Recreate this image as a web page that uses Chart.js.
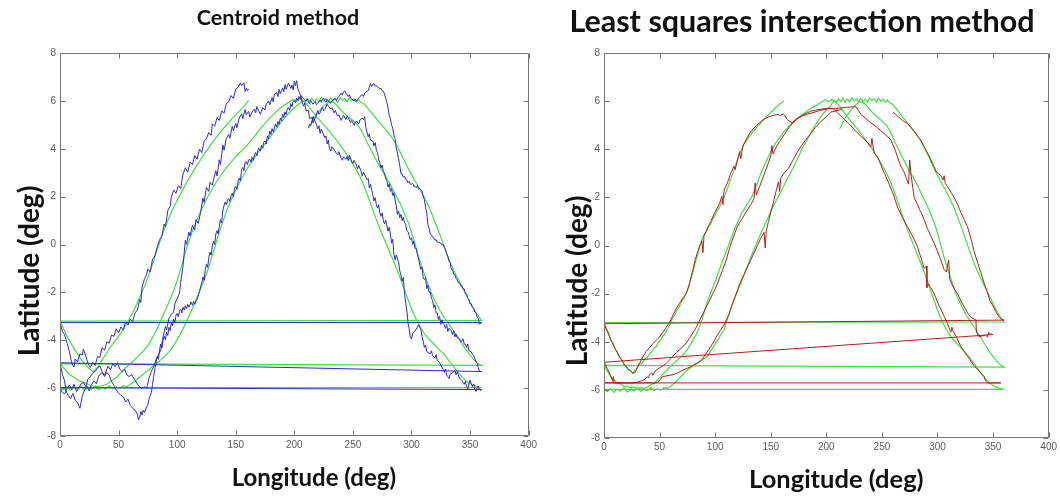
<!DOCTYPE html>
<html>
<head>
<meta charset="utf-8">
<script src="https://cdn.jsdelivr.net/npm/chart.js@4"></script>
<style>
  html, body { margin: 0; padding: 0; background: #fff; }
  #wrap { position: relative; width: 1060px; height: 497px; overflow: hidden; }
  #left { position: absolute; left: 0; top: 0; }
  #right { position: absolute; left: 540px; top: 0; }
</style>
</head>
<body>
<div id="wrap">
  <canvas id="left" width="540" height="497"></canvas>
  <canvas id="right" width="520" height="497"></canvas>
</div>
<script>
// axis ranges / ticks
const lonRange = [0, 400], lonStep = 50;
const latRange = [-8, 8], latStep = 2;

// true track (green), 4 passes over longitude, [lon, lat]
const green1 = [[212,4.85],[215,5.12],[218,5.38],[221,5.55],[224,5.74],[227,5.86],[230,5.98],[233,5.95],[236,5.83],[239,5.66],[242,5.5],[245,5.38],[248,5.26],[251,5.14],[254,5.0],[257,4.78],[260,4.48],[263,4.18],[266,3.9],[270,3.52],[274,3.16],[278,2.84],[282,2.5],[286,2.1],[290,1.74],[294,1.3],[298,0.82],[302,0.2],[306,-0.5],[310,-1.1],[314,-1.65],[318,-2.15],[322,-2.55],[326,-2.9],[330,-3.2],[334,-3.46],[338,-3.76],[342,-4.06],[346,-4.36],[350,-4.62],[354,-4.84],[357,-4.98],[360,-5.05]];
const green2 = [[0,-4.98],[4,-5.2],[8,-5.42],[12,-5.56],[16,-5.68],[20,-5.76],[24,-5.84],[28,-5.9],[32,-5.93],[36,-5.9],[40,-5.84],[44,-5.7],[48,-5.56],[52,-5.36],[56,-5.16],[60,-4.98],[64,-4.8],[68,-4.6],[72,-4.4],[76,-4.15],[80,-3.8],[84,-3.4],[88,-2.96],[92,-2.52],[96,-2.06],[100,-1.5],[104,-0.85],[108,-0.15],[112,0.42],[116,0.92],[120,1.38],[124,1.8],[128,2.16],[132,2.5],[136,2.8],[140,3.08],[144,3.34],[148,3.56],[152,3.78],[156,3.96],[160,4.16],[164,4.4],[168,4.64],[172,4.9],[176,5.12],[180,5.32],[184,5.52],[188,5.7],[192,5.84],[196,5.96],[199,6.06],[202,5.98],[205,6.08],[208,5.96],[211,5.84],[214,5.66],[217,5.46],[220,5.28],[224,5.06],[228,4.84],[232,4.6],[236,4.36],[240,4.1],[244,3.82],[248,3.52],[252,3.2],[256,2.84],[260,2.38],[264,1.86],[268,1.3],[272,0.78],[276,0.3],[280,-0.15],[284,-0.62],[288,-1.1],[292,-1.62],[296,-2.16],[300,-2.68],[304,-3.12],[308,-3.5],[312,-3.8],[316,-4.0],[320,-4.2],[324,-4.4],[328,-4.6],[332,-4.85],[336,-5.1],[340,-5.35],[344,-5.58],[348,-5.76],[352,-5.86],[356,-5.95],[360,-5.98]];
const green3 = [[0,-5.98],[3,-6.08],[6,-5.94],[9,-6.1],[12,-5.97],[15,-6.06],[18,-5.92],[21,-6.09],[24,-5.98],[27,-6.05],[30,-5.93],[33,-6.07],[36,-5.96],[39,-6.04],[42,-5.9],[45,-6.03],[48,-5.95],[51,-6.02],[54,-5.9],[57,-5.94],[60,-5.84],[63,-5.76],[66,-5.62],[70,-5.46],[74,-5.3],[78,-5.14],[82,-4.98],[86,-4.82],[90,-4.64],[94,-4.42],[98,-4.14],[102,-3.8],[106,-3.42],[110,-3.0],[114,-2.56],[118,-2.1],[122,-1.6],[126,-1.1],[130,-0.45],[134,0.2],[138,0.82],[142,1.38],[146,1.86],[150,2.28],[154,2.66],[158,3.02],[162,3.34],[166,3.62],[170,3.9],[174,4.14],[178,4.4],[182,4.66],[186,4.92],[190,5.18],[194,5.42],[198,5.62],[202,5.8],[205,5.9],[207,6.02],[209,5.94],[211,6.1],[213,5.98],[215,6.12],[217,5.96],[219,6.08],[221,5.97],[223,6.14],[225,6.0],[227,6.1],[229,5.95],[231,6.12],[233,6.0],[235,6.08],[237,5.94],[239,6.13],[241,6.02],[243,6.1],[245,5.96],[247,6.12],[249,6.0],[251,6.08],[253,5.95],[255,6.06],[257,5.92],[259,5.9],[262,5.74],[266,5.5],[270,5.26],[274,5.02],[278,4.8],[282,4.56],[286,4.26],[290,3.9],[294,3.5],[298,3.1],[302,2.74],[306,2.4],[310,2.06],[314,1.66],[318,1.2],[322,0.7],[326,0.16],[330,-0.38],[334,-0.86],[338,-1.28],[342,-1.66],[346,-2.04],[350,-2.42],[354,-2.78],[357,-3.0],[360,-3.17]];
const green4 = [[0,-3.2],[3,-3.52],[6,-3.84],[9,-4.1],[12,-4.34],[15,-4.58],[18,-4.8],[21,-4.98],[24,-5.14],[27,-5.26],[29,-5.32],[31,-5.2],[34,-4.98],[37,-4.74],[40,-4.5],[44,-4.22],[48,-3.96],[52,-3.7],[56,-3.38],[60,-3.04],[64,-2.64],[68,-2.22],[72,-1.76],[76,-1.24],[80,-0.66],[84,-0.06],[88,0.5],[92,1.0],[96,1.45],[100,1.85],[104,2.22],[108,2.58],[112,2.92],[116,3.24],[120,3.54],[124,3.84],[128,4.12],[132,4.38],[136,4.64],[140,4.88],[144,5.1],[148,5.32],[152,5.52],[156,5.72],[159,5.88],[161,6.02]];

// true track (rising branches sit a little later there)
const greenR2 = [[0,-4.98],[3,-5.22],[6,-5.46],[9,-5.58],[12,-5.72],[15,-5.76],[18,-5.86],[21,-5.84],[24,-5.92],[27,-5.88],[30,-5.96],[33,-5.9],[36,-5.94],[39,-5.88],[42,-5.8],[45,-5.74],[48,-5.6],[51,-5.46],[54,-5.3],[57,-5.16],[60,-5.0],[63,-4.9],[66,-4.76],[69,-4.64],[72,-4.5],[75,-4.32],[78,-4.1],[81,-3.86],[84,-3.6],[86,-3.36],[88,-3.1],[90,-2.8],[93,-2.32],[95,-2.1],[98,-1.72],[100,-1.5],[103,-1.1],[105,-0.86],[108,-0.48],[110,-0.24],[112,0.0],[114,0.26],[116,0.5],[118,0.74],[120,0.96],[122,1.14],[124,1.36],[126,1.5],[128,1.66],[130,1.8],[133,2.02],[135,2.28],[138,2.62],[140,2.86],[142,3.1],[144,3.3],[146,3.5],[148,3.7],[151,4.0],[153,4.16],[156,4.36],[158,4.5],[160,4.6],[163,4.78],[165,4.88],[168,5.04],[170,5.12],[173,5.26],[175,5.32],[178,5.44],[180,5.5],[183,5.6],[185,5.66],[188,5.76],[190,5.8],[193,5.88],[196,5.96],[199,6.06],[202,5.98],[205,6.08],[208,5.96],[211,5.84],[214,5.66],[217,5.46],[220,5.28],[224,5.06],[228,4.84],[232,4.6],[236,4.36],[240,4.1],[244,3.82],[248,3.52],[252,3.2],[256,2.84],[260,2.38],[264,1.86],[268,1.3],[272,0.78],[276,0.3],[280,-0.15],[284,-0.62],[288,-1.1],[292,-1.62],[296,-2.16],[300,-2.68],[304,-3.12],[308,-3.5],[312,-3.8],[316,-4.0],[320,-4.2],[324,-4.4],[328,-4.6],[332,-4.85],[336,-5.1],[340,-5.35],[344,-5.58],[348,-5.76],[352,-5.86],[356,-5.95],[360,-5.98]];
const greenR3 = [[0,-5.98],[3,-6.08],[6,-5.94],[9,-6.1],[12,-5.97],[15,-6.06],[18,-5.92],[21,-6.09],[24,-5.98],[27,-6.05],[30,-5.93],[33,-6.07],[36,-5.96],[39,-6.04],[42,-5.9],[45,-6.03],[48,-5.95],[51,-6.02],[54,-5.9],[57,-5.94],[60,-5.84],[63,-5.74],[66,-5.6],[68,-5.5],[71,-5.36],[74,-5.22],[77,-5.1],[80,-5.02],[83,-4.92],[86,-4.84],[89,-4.74],[93,-4.6],[96,-4.4],[98,-4.22],[100,-4.08],[102,-3.94],[104,-3.8],[106,-3.66],[108,-3.5],[110,-3.2],[113,-2.8],[115,-2.5],[117,-2.25],[120,-1.92],[122,-1.7],[125,-1.34],[127,-1.1],[130,-0.74],[132,-0.5],[135,-0.16],[137,0.05],[140,0.38],[142,0.6],[145,0.9],[147,1.1],[150,1.4],[152,1.6],[155,1.88],[157,2.05],[160,2.32],[162,2.5],[165,2.78],[167,2.95],[170,3.22],[172,3.4],[175,3.7],[178,4.0],[181,4.26],[184,4.5],[187,4.76],[190,5.0],[193,5.22],[195,5.35],[198,5.52],[200,5.62],[202,5.72],[204,5.8],[205,5.9],[207,6.02],[209,5.94],[211,6.1],[213,5.98],[215,6.12],[217,5.96],[219,6.08],[221,5.97],[223,6.14],[225,6.0],[227,6.1],[229,5.95],[231,6.12],[233,6.0],[235,6.08],[237,5.94],[239,6.13],[241,6.02],[243,6.1],[245,5.96],[247,6.12],[249,6.0],[251,6.08],[253,5.95],[255,6.06],[257,5.92],[259,5.9],[262,5.74],[266,5.5],[270,5.26],[274,5.02],[278,4.8],[282,4.56],[286,4.26],[290,3.9],[294,3.5],[298,3.1],[302,2.74],[306,2.4],[310,2.06],[314,1.66],[318,1.2],[322,0.7],[326,0.16],[330,-0.38],[334,-0.86],[338,-1.28],[342,-1.66],[346,-2.04],[350,-2.42],[354,-2.78],[357,-3.0],[360,-3.17]];
const greenR4 = [[0,-3.2],[2,-3.44],[4,-3.6],[6,-3.92],[8,-4.04],[10,-4.3],[12,-4.42],[14,-4.66],[16,-4.74],[18,-4.96],[20,-5.02],[22,-5.18],[24,-5.2],[26,-5.32],[28,-5.18],[30,-5.08],[32,-4.92],[34,-4.9],[37,-4.7],[39,-4.66],[41,-4.48],[43,-4.42],[45,-4.26],[47,-4.2],[49,-4.02],[51,-3.94],[53,-3.76],[55,-3.68],[57,-3.46],[59,-3.32],[62,-2.98],[64,-2.86],[66,-2.64],[68,-2.52],[70,-2.3],[72,-2.2],[74,-1.98],[76,-1.74],[78,-1.38],[80,-1.12],[82,-0.72],[84,-0.44],[86,-0.04],[88,0.24],[90,0.44],[92,0.56],[94,0.78],[96,0.9],[98,1.12],[100,1.26],[102,1.46],[104,1.6],[106,1.82],[108,1.98],[110,2.26],[112,2.48],[114,2.78],[116,3.0],[118,3.3],[120,3.54],[122,3.84],[124,4.0],[126,4.22],[128,4.32],[130,4.5],[132,4.6],[134,4.74],[136,4.82],[138,4.96],[140,5.04],[142,5.16],[144,5.22],[146,5.36],[148,5.42],[150,5.54],[152,5.6],[154,5.72],[156,5.78],[158,5.88],[160,5.94],[162,6.02]];

// centroid estimate (blue)
const blue1 = [[212,4.9],[213,5.02],[214,4.96],[216,5.35],[217,5.2],[218,5.28],[220,5.6],[221,5.44],[222,5.5],[224,5.74],[225,5.58],[226,5.64],[228,5.86],[229,5.78],[231,5.66],[232,5.72],[234,5.5],[235,5.6],[237,5.36],[238,5.42],[240,5.18],[241,5.3],[242,5.4],[244,5.22],[245,5.36],[246,5.3],[248,5.1],[249,5.18],[251,4.98],[252,5.1],[253,5.16],[255,5.04],[256,5.2],[258,5.28],[259,5.22],[260,5.34],[261,4.9],[262,4.7],[263,4.5],[264,4.62],[265,4.36],[267,4.32],[268,4.12],[269,4.26],[270,3.94],[271,3.84],[272,3.56],[273,3.42],[274,3.2],[275,3.32],[276,3.04],[277,2.98],[278,2.74],[279,2.66],[280,2.4],[281,2.54],[282,2.22],[283,2.34],[284,2.04],[285,2.16],[286,1.88],[287,1.62],[288,1.26],[289,1.4],[290,1.12],[291,1.26],[292,1.0],[293,1.14],[294,0.92],[295,0.82],[296,0.58],[297,0.54],[298,0.38],[299,0.2],[300,0.28],[301,0.0],[302,0.14],[303,-0.16],[304,-0.16],[305,-0.42],[306,-0.56],[307,-0.86],[308,-1.04],[309,-0.94],[310,-1.4],[311,-1.46],[312,-1.38],[313,-1.84],[314,-1.7],[315,-2.0],[316,-1.98],[317,-2.24],[318,-2.34],[319,-2.64],[320,-2.52],[321,-2.86],[322,-2.86],[323,-3.14],[324,-3.0],[325,-3.34],[326,-3.14],[327,-3.3],[328,-3.36],[329,-3.5],[330,-3.34],[331,-3.64],[332,-3.5],[333,-3.54],[334,-3.62],[335,-3.76],[336,-3.6],[337,-3.86],[338,-3.74],[339,-3.9],[340,-3.9],[341,-3.94],[342,-4.08],[343,-4.02],[344,-3.94],[345,-4.16],[346,-4.16],[347,-4.3],[348,-4.16],[349,-4.44],[350,-4.46],[351,-4.48],[352,-4.6],[353,-4.62],[354,-4.76],[355,-4.9],[356,-4.96],[357,-5.14],[358,-5.3],[360,-5.31]];
const blue2 = [[0,-4.94],[2,-5.42],[4,-5.7],[5,-6.12],[7,-6.3],[9,-6.44],[11,-6.22],[13,-6.52],[15,-6.6],[17,-6.84],[19,-6.34],[21,-6.06],[23,-5.92],[25,-6.12],[27,-5.84],[29,-5.7],[31,-5.82],[33,-5.5],[36,-5.34],[38,-5.46],[41,-5.08],[43,-5.24],[45,-4.98],[47,-5.1],[49,-4.94],[51,-5.2],[53,-5.32],[55,-5.2],[57,-5.44],[59,-5.52],[61,-5.44],[64,-5.66],[66,-5.82],[68,-5.94],[70,-6.02],[72,-5.94],[74,-6.0],[76,-5.58],[78,-5.3],[80,-5.1],[82,-4.8],[84,-4.62],[86,-4.4],[88,-3.86],[90,-3.42],[91,-3.56],[93,-3.08],[95,-2.92],[97,-2.82],[98,-2.48],[100,-2.26],[102,-2.02],[103,-1.6],[105,-0.9],[107,0.18],[108,0.0],[110,0.52],[111,0.36],[113,0.8],[115,0.6],[116,1.04],[118,0.88],[120,1.34],[122,1.94],[123,1.76],[125,2.38],[127,2.22],[128,2.6],[130,2.48],[132,2.9],[133,3.08],[134,2.86],[136,3.54],[137,3.34],[139,4.16],[140,3.94],[142,4.44],[144,4.6],[145,4.44],[147,4.94],[148,4.76],[150,5.06],[151,4.88],[153,5.28],[155,5.46],[156,5.26],[158,5.64],[159,5.42],[161,5.56],[162,5.32],[164,5.54],[166,5.66],[167,5.5],[168,5.76],[170,5.54],[171,5.44],[173,5.72],[175,5.62],[176,5.86],[178,6.0],[179,5.84],[181,6.14],[182,5.96],[183,6.28],[185,6.34],[186,6.18],[187,6.48],[188,6.3],[190,6.54],[191,6.38],[192,6.68],[193,6.48],[195,6.74],[197,6.52],[198,6.66],[199,6.46],[200,6.82],[201,6.64],[202,6.84],[203,6.5],[205,6.26],[206,6.12],[207,5.9],[208,5.78],[209,5.92],[210,5.58],[212,5.6],[213,5.26],[215,5.32],[216,5.08],[217,5.22],[219,5.0],[220,4.82],[221,4.96],[222,4.64],[223,4.82],[225,4.58],[226,4.46],[227,4.54],[228,4.2],[229,4.36],[230,4.0],[231,3.9],[232,4.08],[234,3.96],[236,3.8],[237,3.74],[238,3.88],[240,3.6],[241,3.52],[242,3.66],[244,3.56],[245,3.68],[246,3.5],[247,3.72],[249,3.46],[250,3.38],[251,3.52],[253,3.32],[254,3.16],[255,3.3],[257,3.06],[258,2.86],[259,3.02],[261,2.82],[262,2.7],[263,2.76],[264,2.36],[265,2.52],[267,2.06],[268,1.82],[269,1.96],[270,1.66],[271,1.52],[272,1.66],[273,1.32],[274,1.18],[275,1.32],[276,0.98],[277,0.86],[278,1.02],[280,0.56],[281,0.72],[282,0.44],[283,0.06],[284,0.22],[285,-0.4],[286,-0.64],[287,-0.44],[289,-0.74],[290,-1.1],[291,-1.28],[292,-1.54],[293,-1.38],[294,-2.04],[295,-2.4],[296,-2.74],[297,-3.28],[298,-3.52],[299,-3.88],[300,-3.94],[301,-3.72],[303,-3.62],[305,-3.46],[306,-3.34],[307,-3.46],[308,-3.54],[309,-3.84],[310,-4.04],[311,-4.3],[312,-4.2],[313,-4.46],[314,-4.52],[316,-4.56],[317,-4.44],[318,-4.64],[320,-4.74],[321,-4.6],[322,-4.84],[324,-4.94],[325,-5.04],[327,-5.22],[328,-5.34],[329,-5.2],[330,-5.46],[331,-5.52],[332,-5.6],[333,-5.42],[335,-5.36],[337,-5.26],[338,-5.44],[339,-5.34],[341,-5.58],[343,-5.68],[344,-5.76],[345,-5.84],[346,-5.72],[347,-5.94],[348,-6.04],[349,-5.82],[350,-5.66],[351,-5.82],[352,-5.94],[353,-5.82],[354,-6.04],[355,-6.14],[356,-5.98],[357,-5.92],[358,-6.06],[359,-6.1],[360,-6.06]];
const blue3 = [[0,-5.98],[2,-6.18],[4,-6.24],[6,-6.02],[8,-5.88],[10,-6.06],[12,-5.84],[14,-6.14],[16,-6.0],[18,-5.82],[20,-5.76],[22,-5.94],[24,-5.6],[26,-5.52],[28,-5.36],[30,-5.3],[32,-5.14],[34,-5.08],[36,-5.32],[38,-5.52],[40,-5.34],[42,-5.46],[44,-5.72],[46,-5.88],[48,-6.08],[50,-6.2],[52,-6.3],[54,-6.36],[56,-6.58],[58,-6.46],[60,-6.72],[62,-6.84],[64,-6.92],[66,-7.08],[67,-7.32],[68,-7.22],[69,-6.98],[70,-7.12],[71,-6.92],[72,-7.02],[74,-6.78],[75,-6.7],[76,-6.46],[77,-6.32],[78,-6.18],[79,-5.84],[80,-5.5],[81,-5.18],[82,-4.96],[83,-4.66],[84,-4.8],[85,-4.38],[86,-4.16],[87,-4.32],[88,-3.98],[89,-3.84],[90,-3.98],[91,-3.66],[92,-3.8],[93,-3.46],[94,-3.6],[95,-3.26],[96,-3.4],[97,-3.12],[98,-3.26],[99,-2.96],[100,-2.88],[101,-3.02],[102,-2.76],[103,-2.7],[104,-2.86],[105,-2.62],[106,-2.74],[107,-2.56],[108,-2.68],[109,-2.5],[110,-2.62],[112,-2.4],[113,-2.54],[114,-2.38],[115,-2.5],[116,-2.36],[117,-2.3],[118,-2.16],[119,-1.96],[120,-1.78],[121,-1.6],[122,-1.36],[123,-1.5],[124,-1.04],[125,-0.82],[126,-0.96],[127,-0.56],[128,-0.32],[129,-0.44],[130,-0.06],[131,0.14],[132,0.0],[133,0.44],[134,0.58],[135,0.44],[136,0.78],[137,1.04],[138,0.9],[139,1.44],[140,1.62],[141,1.78],[142,1.66],[143,1.86],[144,1.92],[145,1.8],[146,2.04],[147,2.14],[148,2.0],[149,2.34],[150,2.42],[151,2.3],[152,2.64],[153,2.78],[154,2.66],[155,3.14],[156,3.22],[157,3.08],[158,3.44],[159,3.46],[160,3.34],[161,3.54],[162,3.56],[163,3.44],[164,3.64],[165,3.52],[166,3.74],[167,3.84],[168,3.7],[169,3.98],[170,4.02],[171,3.9],[172,4.14],[173,4.02],[174,4.28],[175,4.32],[176,4.2],[177,4.54],[178,4.4],[179,4.74],[180,4.6],[181,4.84],[182,4.7],[184,5.04],[185,4.9],[186,5.14],[187,5.02],[188,5.28],[189,5.16],[190,5.44],[191,5.3],[192,5.54],[193,5.42],[194,5.66],[195,5.72],[196,5.6],[197,5.88],[198,5.76],[199,5.98],[200,6.02],[201,5.92],[202,6.12],[203,6.02],[204,6.18],[205,6.08],[206,6.22],[207,6.12],[208,6.1],[209,6.02],[210,6.0],[211,6.08],[212,5.94],[213,5.88],[214,6.02],[215,5.92],[216,5.86],[217,5.94],[218,5.96],[219,5.84],[220,5.9],[221,5.98],[222,6.04],[223,5.94],[224,6.06],[225,6.12],[226,6.0],[227,5.94],[228,6.06],[229,6.0],[230,5.92],[231,5.9],[232,6.0],[233,6.02],[234,6.08],[235,6.1],[236,6.02],[237,6.12],[238,6.18],[239,6.24],[240,6.32],[241,6.24],[242,6.38],[243,6.42],[244,6.32],[245,6.26],[246,6.18],[247,6.26],[248,6.12],[249,6.08],[250,6.04],[251,6.0],[252,6.08],[253,5.98],[254,6.06],[255,6.12],[256,6.18],[257,6.22],[258,6.26],[259,6.18],[260,6.32],[261,6.36],[262,6.4],[263,6.42],[264,6.56],[265,6.72],[266,6.6],[267,6.7],[268,6.72],[269,6.62],[270,6.64],[271,6.58],[272,6.56],[273,6.5],[274,6.52],[275,6.42],[276,6.4],[277,6.28],[278,6.1],[279,5.94],[280,5.7],[281,5.38],[282,5.26],[283,4.98],[284,4.86],[285,4.58],[286,4.42],[287,4.04],[288,3.82],[289,3.58],[290,3.3],[291,2.96],[292,2.94],[293,2.82],[294,2.84],[295,2.72],[296,2.7],[297,2.58],[298,2.64],[299,2.52],[300,2.52],[301,2.56],[302,2.44],[303,2.44],[304,2.38],[305,2.46],[306,2.32],[307,2.34],[308,2.28],[309,2.22],[310,2.02],[311,1.88],[312,1.56],[313,1.34],[314,0.84],[315,0.68],[316,0.44],[317,0.4],[318,0.3],[319,0.28],[320,0.18],[321,0.2],[322,0.1],[323,0.1],[324,0.08],[325,0.06],[326,-0.02],[327,0.0],[328,-0.12],[329,-0.2],[330,-0.38],[331,-0.5],[332,-0.7],[333,-0.76],[334,-1.04],[335,-1.04],[336,-1.24],[337,-1.26],[338,-1.42],[339,-1.46],[340,-1.6],[341,-1.58],[342,-1.74],[343,-1.72],[344,-1.86],[345,-1.86],[346,-2.04],[347,-2.06],[348,-2.24],[349,-2.28],[350,-2.48],[351,-2.48],[352,-2.64],[353,-2.66],[354,-2.82],[355,-2.84],[356,-3.04],[357,-3.08],[358,-3.32],[360,-3.26]];
const blue4 = [[0,-3.26],[2,-3.62],[4,-3.78],[6,-4.12],[8,-4.46],[10,-4.95],[12,-5.12],[13,-4.78],[15,-4.9],[17,-4.56],[19,-4.62],[20,-4.38],[22,-4.66],[24,-4.98],[26,-5.14],[28,-4.92],[30,-5.06],[32,-4.68],[34,-4.72],[36,-4.3],[38,-4.42],[40,-4.06],[42,-4.12],[44,-3.78],[46,-3.84],[48,-3.52],[50,-3.7],[52,-3.44],[54,-3.58],[56,-3.24],[58,-3.36],[60,-3.12],[62,-3.22],[64,-2.86],[66,-2.74],[68,-2.3],[69,-2.42],[70,-1.78],[72,-1.46],[74,-1.24],[75,-1.02],[77,-1.14],[79,-0.62],[81,-0.48],[83,-0.1],[85,0.2],[87,0.36],[89,0.86],[90,0.74],[92,1.42],[94,1.6],[95,1.96],[97,2.28],[99,2.14],[101,2.46],[103,2.34],[105,2.94],[107,3.2],[109,3.02],[111,3.44],[113,3.34],[115,3.72],[117,3.56],[119,3.98],[121,3.84],[123,4.32],[125,4.42],[127,4.68],[129,4.56],[130,5.04],[132,4.94],[134,5.3],[136,5.18],[138,5.58],[140,5.48],[142,5.9],[144,5.96],[146,6.22],[148,6.1],[150,6.48],[152,6.58],[154,6.74],[155,6.64],[157,6.76],[158,6.4],[159,6.52],[160,6.42],[161,6.5]];

// least squares intersection estimate (red)
const red1 = [[260,5.55],[263,5.42],[266,5.3],[270,5.15],[273,5.08],[276,4.92],[279,4.75],[282,4.55],[285,4.38],[288,4.12],[291,3.85],[294,3.58],[297,3.27],[299,3.05],[301,2.98],[303,2.9],[305,2.72],[306,2.9],[307,2.58],[309,2.45],[312,2.22],[315,2.0],[318,1.7],[321,1.38],[324,1.08],[327,0.78],[330,0.3],[333,-0.25],[336,-0.7],[339,-1.12],[342,-1.57],[345,-1.95],[347,-2.28],[350,-2.52],[353,-2.8],[356,-3.0],[358,-3.08],[360,-3.1]];
const red2 = [[0,-3.25],[3,-3.58],[6,-3.9],[9,-4.2],[12,-4.46],[15,-4.7],[18,-4.92],[21,-5.1],[24,-5.22],[26,-5.3],[28,-5.28],[30,-5.08],[32,-4.9],[35,-4.62],[38,-4.4],[41,-4.25],[44,-4.08],[47,-3.94],[50,-3.8],[53,-3.6],[56,-3.4],[59,-3.2],[62,-2.9],[65,-2.62],[68,-2.4],[71,-2.18],[74,-2.0],[77,-1.58],[80,-1.0],[82,-0.6],[84,-0.3],[86,-0.05],[88,0.2],[89,-0.3],[90,0.42],[93,0.7],[96,1.0],[100,1.4],[104,1.75],[106,2.05],[107,1.7],[108,2.3],[111,2.6],[114,3.0],[117,3.3],[118,3.15],[120,3.55],[122,3.9],[123,3.6],[125,4.15],[128,4.42],[131,4.66],[134,4.84],[137,4.98],[140,5.1],[143,5.22],[146,5.3],[149,5.36],[152,5.4],[155,5.44],[157,5.45],[159,5.38],[160,5.46],[162,5.45],[165,5.22],[169,5.1],[173,5.25],[178,5.38],[183,5.46],[188,5.52],[193,5.6],[198,5.65],[203,5.7],[208,5.68],[213,5.72],[218,5.74],[223,5.76],[227,5.76],[229,5.6],[231,5.45],[235,5.3],[240,5.1],[246,4.9],[252,4.65],[258,4.4],[262,3.95],[265,3.55],[267,3.3],[270,3.05],[272,2.78],[274,2.55],[275,3.55],[276,3.0],[279,2.0],[282,1.7],[284,1.48],[286,1.3],[288,1.06],[291,0.7],[294,0.4],[297,0.1],[300,-0.25],[303,-0.6],[306,-1.0],[308,-1.1],[310,-0.6],[311,-1.4],[313,-1.62],[315,-1.8],[318,-2.0],[321,-2.3],[324,-2.55],[327,-2.8],[330,-2.98],[333,-3.06],[334.6,-3.1],[335,-3.6],[337.5,-3.8],[340,-3.76],[343,-3.72],[345,-3.8],[346,-3.62],[348,-3.68],[350,-3.7]];
const red3 = [[0,-4.85],[3,-5.12],[6,-5.4],[8,-5.65],[8.5,-5.45],[9,-5.71],[14,-5.71],[20,-5.71],[26,-5.71],[30,-5.68],[34,-5.62],[37,-5.55],[39,-5.45],[40,-5.5],[41,-5.36],[43,-5.3],[44,-5.4],[46,-5.22],[50,-5.08],[53,-5.0],[56,-4.9],[60,-4.7],[65,-4.45],[70,-4.25],[74,-4.05],[78,-3.78],[83,-3.4],[87,-3.02],[92,-2.55],[96,-2.18],[101,-1.7],[105,-1.22],[110,-0.6],[113,-0.1],[116,0.3],[120,0.8],[124,1.1],[128,1.4],[132,1.7],[135,1.95],[136,2.6],[137,2.1],[140,2.45],[144,2.95],[148,3.45],[150,3.72],[151,4.15],[152,3.8],[155,4.1],[158,4.32],[162,4.6],[166,4.88],[170,5.1],[175,5.3],[180,5.45],[186,5.58],[192,5.64],[197,5.68],[202,5.7],[206,5.7],[210,5.52],[213,5.38],[217,5.2],[220,5.08],[224,4.88],[228,4.68],[232,4.5],[235,4.38],[238,4.22],[240,4.1],[241,4.45],[243,3.85],[246,3.68],[250,3.25],[255,2.72],[260,2.16],[264,1.6],[268,1.2],[273,0.78],[278,0.35],[282,-0.05],[285,-0.5],[288,-0.95],[290,-0.85],[290.5,-1.75],[292,-1.6],[294,-1.75],[297,-2.0],[300,-2.35],[303,-2.65],[306,-2.94],[309,-3.25],[312,-3.6],[313,-3.4],[314,-3.55],[316,-3.7],[318,-3.9],[321,-4.2],[324,-4.4],[327,-4.6],[330,-4.8],[333,-5.0],[336,-5.15],[339,-5.3],[342,-5.45],[343,-5.62],[345,-5.71],[350,-5.71],[357,-5.71]];
const red4 = [[0,-5.71],[10,-5.71],[20,-5.71],[30,-5.71],[40,-5.71],[48,-5.71],[50,-5.6],[52.6,-5.45],[56,-5.42],[62,-5.37],[66,-5.3],[70,-5.2],[75,-5.1],[79.6,-5.0],[84,-4.88],[88,-4.75],[91,-4.55],[94.6,-4.3],[98,-4.05],[101,-3.8],[105,-3.5],[108,-3.3],[112,-2.9],[115,-2.5],[118,-2.12],[122,-1.6],[126,-1.2],[130,-0.8],[134,-0.4],[138,0.0],[141,0.3],[144,0.55],[145,-0.1],[146,0.62],[148,1.0],[150,1.4],[153,1.9],[155,2.3],[157,2.65],[158,2.25],[159,2.8],[162,3.02],[166,3.2],[170,3.55],[175,3.97],[180,4.3],[185,4.6],[190,4.9],[195,5.15],[200,5.35],[204.5,5.55],[209,5.6],[214,5.65]];

const toPts = arr => arr.map(([x, y]) => ({ x, y }));
const greenLeft = toPts([...green1, ...green2, ...green3, ...green4]);
const greenRight = toPts([...green1, ...greenR2, ...greenR3, ...greenR4]);
const blueTrack = toPts([...blue1, ...blue2, ...blue3, ...blue4]);
const redTrack = toPts([...red1, ...red2, ...red3, ...red4]);

// box with inward ticks on all four sides
const framePlugin = {
  id: 'frame',
  afterDatasetsDraw(chart) {
    const { ctx, chartArea: a, scales: { x, y } } = chart;
    const L = Math.round(a.left) + 0.5, R = Math.round(a.right) - 0.5;
    const T = Math.round(a.top) + 0.5, B = Math.round(a.bottom) - 0.5;
    ctx.save();
    ctx.strokeStyle = '#767676';
    ctx.lineWidth = 1;
    ctx.beginPath();
    ctx.rect(L, T, R - L, B - T);
    x.ticks.forEach(t => {
      const px = Math.round(x.getPixelForValue(t.value)) + 0.5;
      ctx.moveTo(px, B); ctx.lineTo(px, B - 5);
      ctx.moveTo(px, T); ctx.lineTo(px, T + 5);
    });
    y.ticks.forEach(t => {
      const py = Math.round(y.getPixelForValue(t.value)) + 0.5;
      ctx.moveTo(L, py); ctx.lineTo(L + 5, py);
      ctx.moveTo(R, py); ctx.lineTo(R - 5, py);
    });
    ctx.stroke();
    ctx.restore();
  }
};

// axis titles placed relative to the plot area
const axisTitlePlugin = {
  id: 'axisTitles',
  afterDraw(chart, args, o) {
    const { ctx, chartArea: a } = chart;
    ctx.save();
    ctx.fillStyle = '#111';
    ctx.textAlign = 'center';
    ctx.textBaseline = 'middle';
    ctx.font = 'bold ' + o.xSize + 'px Lato';
    ctx.fillText(o.xText, (a.left + a.right) / 2 + o.xdx, a.bottom + o.xdy);
    ctx.font = 'bold ' + o.ySize + 'px Lato';
    ctx.translate(o.yx, (a.top + a.bottom) / 2 + o.ydy);
    ctx.rotate(-Math.PI / 2);
    ctx.fillText(o.yText, 0, 0);
    ctx.restore();
  }
};

function makeChart(id, cfg) {
  return new Chart(document.getElementById(id), {
    type: 'scatter',
    data: { datasets: cfg.datasets },
    options: {
      responsive: false,
      animation: false,
      events: [],
      layout: { padding: { left: cfg.padLeft, right: cfg.padRight, top: 0, bottom: 0 } },
      plugins: {
        legend: { display: false },
        tooltip: { enabled: false },
        title: {
          display: true,
          text: cfg.title,
          color: '#111',
          font: { family: 'Lato', size: cfg.titleSize, weight: 'bold', lineHeight: 1.2 },
          padding: { top: cfg.titleTop, bottom: cfg.titleBottom }
        },
        axisTitles: cfg.axisTitles
      },
      scales: {
        x: {
          type: 'linear',
          min: lonRange[0], max: lonRange[1],
          grid: { display: false, drawTicks: false },
          border: { display: false },
          ticks: { stepSize: lonStep, padding: 3, color: '#5c5c5c', font: { family: 'Liberation Sans', size: 10 }, maxRotation: 0 },
          afterFit: s => { s.height = cfg.xHeight; }
        },
        y: {
          type: 'linear',
          min: latRange[0], max: latRange[1],
          grid: { display: false, drawTicks: false },
          border: { display: false },
          ticks: { stepSize: latStep, padding: 4, color: '#5c5c5c', font: { family: 'Liberation Sans', size: 10 } },
          afterFit: s => { s.width = cfg.yWidth; }
        }
      }
    },
    plugins: [framePlugin, axisTitlePlugin]
  });
}

const lineStyle = { showLine: true, pointRadius: 0, tension: 0, fill: false };

makeChart('left', {
  title: 'Centroid method', titleSize: 21.5, titleTop: 5.6, titleBottom: 21.6,
  padLeft: 25, padRight: 9, yWidth: 35, xHeight: 61,
  axisTitles: { xText: 'Longitude (deg)', xSize: 24, xdx: 19.5, xdy: 42, yText: 'Latitude (deg)', ySize: 28, yx: 30, ydy: 26.5 },
  datasets: [
    { label: 'Centroid estimate', data: blueTrack, borderColor: '#2c2cc8', borderWidth: 1, ...lineStyle },
    { label: 'True position', data: greenLeft, borderColor: '#44dd44', borderWidth: 1.2, ...lineStyle }
  ]
});

makeChart('right', {
  title: 'Least squares intersection method', titleSize: 30.5, titleTop: 4, titleBottom: 12.4,
  padLeft: 12, padRight: 8, yWidth: 52, xHeight: 59,
  axisTitles: { xText: 'Longitude (deg)', xSize: 25.5, xdx: 10, xdy: 42, yText: 'Latitude (deg)', ySize: 28, yx: 38, ydy: 35.5 },
  datasets: [
    { label: 'Least squares estimate', data: redTrack, borderColor: '#b02020', borderWidth: 1, ...lineStyle },
    { label: 'True position', data: greenRight, borderColor: '#44dd44', borderWidth: 1.2, ...lineStyle }
  ]
});
</script>
</body>
</html>
